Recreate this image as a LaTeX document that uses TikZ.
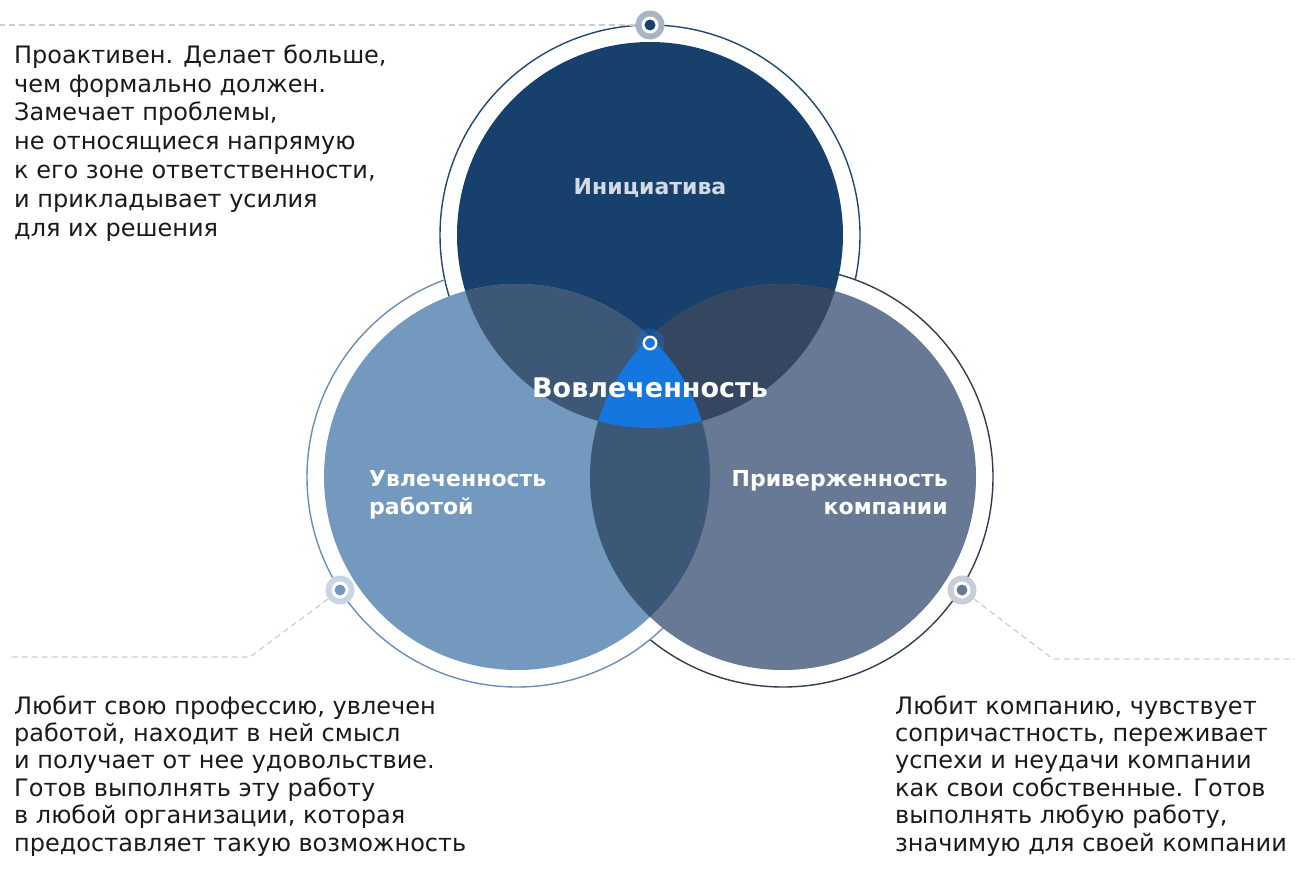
\documentclass[tikz,border=0pt]{standalone}
\usepackage{fontspec}
\setmainfont{DejaVu Sans}
\definecolor{topfill}{HTML}{17416C}
\definecolor{leftfill}{HTML}{7499BE}
\definecolor{rightfill}{HTML}{687996}
\definecolor{tlfill}{HTML}{3D5876}
\definecolor{trfill}{HTML}{354760}
\definecolor{lrfill}{HTML}{3C5877}
\definecolor{corefill}{HTML}{1477DF}
\definecolor{topring}{HTML}{1E4774}
\definecolor{leftring}{HTML}{6A8EB6}
\definecolor{rightring}{HTML}{2F3D52}
\definecolor{tophalo}{HTML}{A8B4C6}
\definecolor{lefthalo}{HTML}{C9D5E4}
\definecolor{righthalo}{HTML}{C8CDD8}
\definecolor{leadergray}{HTML}{C8CDD8}
\definecolor{bodytext}{HTML}{1A1A1A}
\definecolor{initlabel}{HTML}{D3DAE4}
\tikzset{
  ringline/.style={line width=1.4pt},
  leaderline/.style={draw=leadergray, line width=1.2pt, dash pattern=on 6pt off 4pt},
  dothalo/.style={circle, inner sep=0pt, minimum size=29pt},
  desc/.style={anchor=base west, inner sep=0pt, align=left, text=bodytext,
    font=\fontsize{24}{#1}\selectfont},
  desc/.default=27.4,
  circlabel/.style={inner sep=0pt, text=white, font=\bfseries\fontsize{22}{28}\selectfont},
}
\begin{document}
\begin{tikzpicture}[x=1pt,y=-1pt]
  \useasboundingbox (0,0) rectangle (1295,870);
  \coordinate (T) at (650,235);
  \coordinate (L) at (517,477);
  \coordinate (R) at (783,477);
  % outer rings
  \begin{scope}[even odd rule]
    \clip (0,0) rectangle (1295,870) (R) circle[radius=210pt];
    \draw[ringline, topring] (T) circle[radius=210pt];
  \end{scope}
  \begin{scope}[even odd rule]
    \clip (0,0) rectangle (1295,870) (L) circle[radius=210pt];
    \draw[ringline, rightring] (R) circle[radius=210pt];
  \end{scope}
  \begin{scope}[even odd rule]
    \clip (0,0) rectangle (1295,870) (T) circle[radius=210pt];
    \draw[ringline, leftring] (L) circle[radius=210pt];
  \end{scope}
  % discs
  \fill[topfill] (T) circle[radius=193pt];
  \fill[leftfill] (L) circle[radius=193pt];
  \fill[rightfill] (R) circle[radius=193pt];
  \begin{scope}
    \clip (T) circle[radius=193pt];
    \fill[tlfill] (L) circle[radius=193pt];
    \fill[trfill] (R) circle[radius=193pt];
  \end{scope}
  \begin{scope}
    \clip (L) circle[radius=193pt];
    \fill[lrfill] (R) circle[radius=193pt];
    \clip (T) circle[radius=193pt];
    \fill[corefill] (R) circle[radius=193pt];
  \end{scope}
  % markers and leaders
  \node[dothalo, fill=tophalo] (dottop) at (650,25) {};
  \fill[white] (dottop) circle[radius=8.5pt];
  \fill[topfill] (dottop) circle[radius=5.5pt];
  \node[dothalo, fill=lefthalo] (dotleft) at (340,590) {};
  \fill[white] (dotleft) circle[radius=8.5pt];
  \fill[leftfill] (dotleft) circle[radius=5.5pt];
  \node[dothalo, fill=righthalo] (dotright) at (962,590) {};
  \fill[white] (dotright) circle[radius=8.5pt];
  \fill[rightfill] (dotright) circle[radius=5.5pt];
  \coordinate (topend) at (0,25);
  \coordinate (leftbend) at (250,657);
  \coordinate (leftend) at (10,657);
  \coordinate (rightbend) at (1053,659);
  \coordinate (rightend) at (1295,659);
  \draw[leaderline] (dottop) -- (topend);
  \draw[leaderline] (dotleft) -- (leftbend) -- (leftend);
  \draw[leaderline] (dotright) -- (rightbend) -- (rightend);
  % centre point
  \node[dothalo, fill=corefill, fill opacity=0.35] (core) at (650,343) {};
  \draw[white, line width=2.4pt] (core) circle[radius=6.2pt];
  % labels
  \node[circlabel, text=initlabel] (initiative) at (650,188) {Инициатива};
  \node[circlabel, anchor=base west, align=left] (passion) at (369,514) {Увлеченность\\работой};
  \node[circlabel, anchor=base east, align=right] (loyalty) at (948,514) {Приверженность\\компании};
  \node[circlabel, font=\bfseries\fontsize{27}{30}\selectfont] (engagement) at (650,388) {Вовлеченность};
  % descriptions
  \node[desc=28.8] (desctop) at (14,236) {Проактивен. Делает больше,\\чем формально должен.\\Замечает проблемы,\\не относящиеся напрямую\\к его зоне ответственности,\\и прикладывает усилия\\для их решения};
  \node[desc] (descleft) at (14,851) {Любит свою профессию, увлечен\\работой, находит в ней смысл\\и получает от нее удовольствие.\\Готов выполнять эту работу\\в любой организации, которая\\предоставляет такую возможность};
  \node[desc] (descright) at (895,851) {Любит компанию, чувствует\\сопричастность, переживает\\успехи и неудачи компании\\как свои собственные. Готов\\выполнять любую работу,\\значимую для своей компании};
\end{tikzpicture}
\end{document}
